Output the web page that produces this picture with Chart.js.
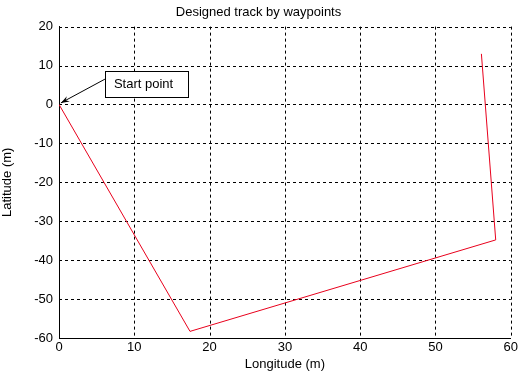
<!DOCTYPE html>
<html><head><meta charset="utf-8">
<script src="https://cdn.jsdelivr.net/npm/chart.js@4/dist/chart.umd.min.js"></script>
<style>html,body{margin:0;padding:0;background:#fff}#wrap{width:520px;height:372px}</style>
</head><body><div id="wrap"><canvas id="c" width="520" height="372"></canvas></div>
<script>
const lonValues = [0, 17.4, 58.0, 56.1];
const latValues = [0, -58.3, -34.8, 13.0];
const xTicks = [0, 10, 20, 30, 40, 50, 60];
const yTicks = [20, 10, 0, -10, -20, -30, -40, -50, -60];
const annotationText = 'Start point';
const annotationTarget = [0.25, 0.4];
const annotationBox = [6.1, 8.5, 17.1, 1.8];
const annotationTail = [6.1, 6.5];

const FONT = 'Liberation Sans, Arial, sans-serif';
const dashedGrid = {
  id: 'dashedGrid',
  beforeDatasetsDraw(chart) {
    const ctx = chart.ctx, a = chart.chartArea, xs = chart.scales.x, ys = chart.scales.y;
    ctx.save();
    ctx.strokeStyle = '#000'; ctx.lineWidth = 1; ctx.setLineDash([3, 3]);
    xs.ticks.forEach(t => {
      const p = Math.round(xs.getPixelForValue(t.value)) + 0.5;
      if (t.value === xs.min) return;
      ctx.beginPath(); ctx.moveTo(p, a.top); ctx.lineTo(p, a.bottom); ctx.stroke();
    });
    ys.ticks.forEach(t => {
      const p = Math.round(ys.getPixelForValue(t.value)) + 0.5;
      if (t.value === ys.min) return;
      ctx.beginPath(); ctx.moveTo(a.left, p); ctx.lineTo(a.right, p); ctx.stroke();
    });
    ctx.restore();
  }
};
const annot = {
  id: 'annot',
  afterDatasetsDraw(chart) {
    const ctx = chart.ctx, xs = chart.scales.x, ys = chart.scales.y;
    const bx1 = xs.getPixelForValue(annotationBox[0]), by1 = ys.getPixelForValue(annotationBox[1]);
    const bx2 = xs.getPixelForValue(annotationBox[2]), by2 = ys.getPixelForValue(annotationBox[3]);
    ctx.save();
    ctx.fillStyle = '#fff'; ctx.strokeStyle = '#000'; ctx.lineWidth = 1;
    ctx.fillRect(bx1, by1, bx2 - bx1, by2 - by1);
    ctx.strokeRect(Math.round(bx1)+0.5, Math.round(by1)+0.5, Math.round(bx2-bx1), Math.round(by2-by1));
    ctx.fillStyle = '#000'; ctx.font = '13px ' + FONT; ctx.textBaseline = 'middle'; ctx.textAlign = 'left';
    ctx.fillText(annotationText, bx1 + 9, (by1 + by2) / 2);
    const tx = xs.getPixelForValue(annotationTail[0]), ty = ys.getPixelForValue(annotationTail[1]);
    const hx = xs.getPixelForValue(annotationTarget[0]), hy = ys.getPixelForValue(annotationTarget[1]);
    ctx.beginPath(); ctx.moveTo(tx, ty); ctx.lineTo(hx, hy); ctx.stroke();
    const ang = Math.atan2(hy - ty, hx - tx), L = 9, w = 0.35;
    ctx.beginPath();
    ctx.moveTo(hx, hy);
    ctx.lineTo(hx - L * Math.cos(ang - w), hy - L * Math.sin(ang - w));
    ctx.lineTo(hx - L * 0.6 * Math.cos(ang), hy - L * 0.6 * Math.sin(ang));
    ctx.lineTo(hx - L * Math.cos(ang + w), hy - L * Math.sin(ang + w));
    ctx.closePath(); ctx.fill();
    ctx.restore();
  }
};
const bg = { id: 'bg', beforeDraw(c) { c.ctx.save(); c.ctx.fillStyle = '#fff'; c.ctx.fillRect(0, 0, c.width, c.height); c.ctx.restore(); } };

new Chart(document.getElementById('c'), {
  type: 'scatter',
  data: { datasets: [{
    data: lonValues.map((x, i) => ({ x, y: latValues[i] })),
    showLine: true, borderColor: '#e8001c', borderWidth: 1, pointRadius: 0, fill: false
  }]},
  options: {
    responsive: false, animation: false, devicePixelRatio: 1,
    layout: { padding: { left: 0, right: 3, top: 0, bottom: 0 } },
    plugins: {
      legend: { display: false }, tooltip: { enabled: false },
      title: { display: true, text: 'Designed track by waypoints', color: '#000',
        font: { family: FONT, size: 13, weight: 'normal' }, padding: { top: 5, bottom: 6 } }
    },
    scales: {
      x: { type: 'linear', min: 0, max: 60,
        afterBuildTicks(s) { s.ticks = xTicks.map(v => ({ value: v })); },
        afterFit(s) { s.height = 34; },
        grid: { display: false, drawTicks: false, tickLength: 0 },
        border: { display: true, color: '#000', width: 1 },
        ticks: { color: '#000', font: { family: FONT, size: 13 }, padding: 2, maxRotation: 0 },
        title: { display: true, text: 'Longitude (m)', color: '#000', font: { family: FONT, size: 13 }, padding: { top: 0, bottom: 0 } }
      },
      y: { type: 'linear', min: -60, max: 20,
        afterBuildTicks(s) { s.ticks = yTicks.map(v => ({ value: v })); },
        afterFit(s) { s.width = 59; },
        grid: { display: false, drawTicks: false, tickLength: 0 },
        border: { display: true, color: '#000', width: 1 },
        ticks: { color: '#000', font: { family: FONT, size: 13 }, padding: 6 },
        title: { display: true, text: 'Latitude (m)', color: '#000', font: { family: FONT, size: 13 }, padding: { top: 0, bottom: 3 } }
      }
    }
  },
  plugins: [bg, dashedGrid, annot]
});
</script></body></html>
